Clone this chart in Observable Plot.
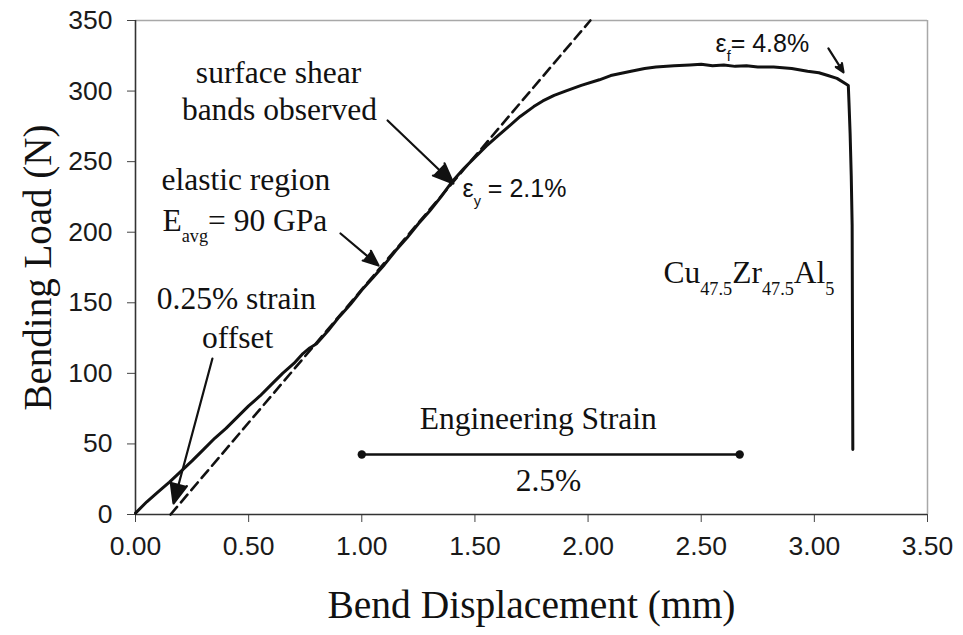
<!DOCTYPE html>
<html>
<head>
<meta charset="utf-8">
<script src="https://cdn.jsdelivr.net/npm/d3@7"></script>
<script src="https://cdn.jsdelivr.net/npm/@observablehq/plot@0.6"></script>
<style>
  html, body { margin: 0; padding: 0; background: #fff; }
</style>
</head>
<body>
<div id="chart"></div>
<script>
// Three-point bend test of Cu47.5Zr47.5Al5: load vs. bend displacement
const displacement = [
  0.00, 0.05, 0.10, 0.15, 0.19, 0.25, 0.30, 0.35, 0.40, 0.45, 0.50, 0.55, 0.60, 0.65,
  0.70, 0.74, 0.77, 0.80, 0.85, 0.90, 0.95, 1.00, 1.05, 1.10, 1.15, 1.20, 1.25, 1.30,
  1.35, 1.40, 1.45, 1.50, 1.55, 1.60, 1.65, 1.70, 1.76, 1.80, 1.85, 1.90, 1.97, 2.05,
  2.10, 2.19, 2.25, 2.30, 2.38, 2.45, 2.50, 2.55, 2.60, 2.65, 2.70, 2.75, 2.82, 2.90,
  2.97, 3.02, 3.06, 3.10, 3.14, 3.150, 3.153, 3.158, 3.163, 3.167, 3.170
];
const load = [
  1, 9, 16, 23, 29, 38, 46, 54, 61, 69, 77, 84, 92, 100,
  107, 114, 118, 121, 130, 140, 149, 159, 168, 177, 187, 196, 206, 215,
  225, 236, 245, 253, 261, 268, 275, 282, 289, 293, 297, 300, 304, 308,
  311, 314, 316, 317, 318, 318.5, 319, 318, 318.5, 317.5, 318, 317, 317, 316,
  314, 313, 311, 309, 305, 304, 292, 270, 240, 205, 46
];

// 0.25% strain offset line (elastic slope shifted along x)
const offsetDisp = [0.155, 2.01];
const offsetLoad = [0, 350];

// Scale bar: 2.5% engineering strain expressed in displacement
const strainBarDisp = [1.00, 2.67];
const strainBarLoad = [42.5, 42.5];

const xTicks = [0, 0.5, 1.0, 1.5, 2.0, 2.5, 3.0, 3.5];
const yTicks = [0, 50, 100, 150, 200, 250, 300, 350];

const curve = displacement.map((x, i) => ({x, y: load[i]}));
const offsetLine = offsetDisp.map((x, i) => ({x, y: offsetLoad[i]}));
const strainBar = strainBarDisp.map((x, i) => ({x, y: strainBarLoad[i]}));

const serif = "'Liberation Serif', 'Times New Roman', serif";
const sans = "'Liberation Sans', Arial, sans-serif";
const ink = "#111";

const note = (x, y, text, opts = {}) =>
  Plot.text([text], {x: () => x, y: () => y, text: d => d, fontFamily: serif, fontSize: 31.5,
    fill: ink, lineAnchor: "bottom", textAnchor: "middle", ...opts});

const pointer = (x1, y1, x2, y2) =>
  Plot.arrow([0], {x1: () => x1, y1: () => y1, x2: () => x2, y2: () => y2,
    stroke: ink, fill: ink, strokeWidth: 2.2, headLength: 15, headAngle: 45, strokeLinejoin: "miter"});

const chart = Plot.plot({
  width: 963,
  height: 635,
  marginLeft: 135,
  marginRight: 36,
  marginTop: 20,
  marginBottom: 121,
  style: {background: "#fff", color: "#222", fontFamily: sans, fontSize: "26.5px"},
  x: {domain: [0, 3.5]},
  y: {domain: [0, 350]},
  marks: [
    // light frame on top and right
    Plot.ruleY([350], {stroke: "#a8a8a8", strokeWidth: 1.5}),
    Plot.ruleX([3.5], {stroke: "#a8a8a8", strokeWidth: 1.5}),
    Plot.axisX({ticks: xTicks, tickFormat: d3.format(".2f"), tickSize: 8, tickPadding: 14,
      stroke: "#444", fill: "#1a1a1a", label: null}),
    Plot.axisY({ticks: yTicks, tickFormat: d3.format("d"), tickSize: 8, tickPadding: 15,
      stroke: "#444", fill: "#1a1a1a", label: null}),
    Plot.ruleY([0], {stroke: "#333", strokeWidth: 1.6}),
    Plot.ruleX([0], {stroke: "#333", strokeWidth: 1.6}),

    // axis titles
    Plot.text(["Bend Displacement (mm)"], {frameAnchor: "bottom", dy: 91, fontFamily: serif,
      fontSize: 39.5, fill: ink, textAnchor: "middle", lineAnchor: "middle"}),
    Plot.text(["Bending Load (N)"], {frameAnchor: "left", dx: -97, rotate: -90, fontFamily: serif,
      fontSize: 39, fill: ink, textAnchor: "middle", lineAnchor: "middle"}),

    // offset line and measured curve
    Plot.line(offsetLine, {x: "x", y: "y", stroke: ink, strokeWidth: 2.6, strokeDasharray: "10,6"}),
    Plot.line(curve, {x: "x", y: "y", stroke: ink, strokeWidth: 3, strokeLinejoin: "round"}),

    // strain scale bar
    Plot.line(strainBar, {x: "x", y: "y", stroke: ink, strokeWidth: 2.6}),
    Plot.dot(strainBar, {x: "x", y: "y", r: 4.2, fill: ink}),
    note(1.78, 60.9, "Engineering Strain"),
    note(1.825, 17.0, "2.5%"),

    // annotations
    note(0.632, 305.4, "surface shear"),
    note(0.636, 279.2, "bands observed"),
    note(0.115, 229.6, "elastic region", {textAnchor: "start"}),
    note(0.119, 201.2, "E_{avg}= 90 GPa", {textAnchor: "start"}),
    note(0.446, 145.9, "0.25% strain"),
    note(0.451, 118.3, "offset"),
    note(2.333, 163.7, "Cu_{47.5}Zr_{47.5}Al_{5}", {textAnchor: "start"}),
    note(1.445, 225.3, "ε_{y} = 2.1%", {textAnchor: "start", fontFamily: sans, fontSize: 25}),
    note(2.563, 328.0, "ε_{f}= 4.8%", {textAnchor: "start", fontFamily: sans, fontSize: 25}),

    pointer(1.114, 279.2, 1.405, 234.5),
    pointer(0.906, 199.1, 1.074, 176.4),
    pointer(0.340, 110.5, 0.168, 7.8),
    pointer(3.062, 330.2, 3.129, 313.2)
  ]
});

document.getElementById("chart").appendChild(chart);

// Turn "_{...}" markup into subscript tspans
d3.select(chart).selectAll("text").each(function () {
  const raw = this.textContent;
  if (!raw.includes("_{")) return;
  const fs = parseFloat(getComputedStyle(this).fontSize);
  const isSerif = /Serif/i.test(getComputedStyle(this).fontFamily);
  const shift = (isSerif ? 0.36 : 0.2) * fs;
  const size = (isSerif ? 0.58 : 0.8) * fs;
  const parts = raw.split(/_\{([^}]*)\}/);
  this.textContent = "";
  let lowered = false;
  parts.forEach((p, i) => {
    if (p === "") return;
    const ts = document.createElementNS("http://www.w3.org/2000/svg", "tspan");
    ts.textContent = p;
    if (i % 2 === 1) {
      ts.setAttribute("font-size", size);
      if (!lowered) { ts.setAttribute("dy", shift); lowered = true; }
    } else if (lowered) {
      ts.setAttribute("dy", -shift);
      lowered = false;
    }
    this.appendChild(ts);
  });
});
</script>
</body>
</html>
